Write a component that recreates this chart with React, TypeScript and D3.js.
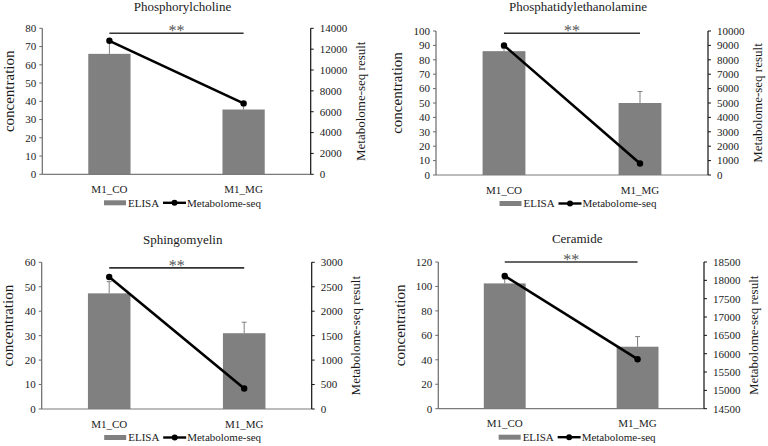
import * as d3 from "d3";

// ELISA vs. metabolome-seq for four lipid classes
const categories = ["M1_CO", "M1_MG"];
const panelTitles = ["Phosphorylcholine", "Phosphatidylethanolamine", "Sphingomyelin", "Ceramide"];
const elisaMeans = [[66, 35.5], [86, 50], [47.3, 31], [102.5, 50.7]];
const elisaErrors = [[7.5, 4.3], [2, 8], [4.8, 4.5], [3.5, 8.3]];
const metabolomeValues = [[12800, 6800], [9000, 800], [2700, 420], [18120, 15850]];
const leftDomains = [[0, 80], [0, 100], [0, 60], [0, 120]];
const leftSteps = [10, 10, 10, 20];
const rightDomains = [[0, 14000], [0, 10000], [0, 3000], [14500, 18500]];
const rightSteps = [2000, 1000, 500, 500];
const sigLevels = [77.3, 98.4, 57.7, 120];

// plot boxes for the 2x2 grid
const boxes = [
  { left: 42.3, right: 310.7, top: 28.3, bottom: 174.3, titleY: 10.5 },
  { left: 436, right: 708, top: 31, bottom: 175, titleY: 10.5 },
  { left: 41.7, right: 311.7, top: 262.3, bottom: 409, titleY: 244 },
  { left: 438.3, right: 704, top: 262, bottom: 408.7, titleY: 243 },
];

const BAR = "#808080";
const TEXT = "#1a1a1a";
const serif = { fontFamily: "'Liberation Serif', serif", fill: TEXT } as const;

const Panel = ({ i }: { i: number }) => {
  const b = boxes[i];
  const x = d3
    .scaleBand()
    .domain(categories)
    .range([b.left, b.right])
    .paddingInner(0.685)
    .paddingOuter(0.3425);
  const yL = d3.scaleLinear().domain(leftDomains[i]).range([b.bottom, b.top]);
  const yR = d3.scaleLinear().domain(rightDomains[i]).range([b.bottom, b.top]);
  const leftTicks = d3.range(leftDomains[i][0], leftDomains[i][1] + leftSteps[i] / 2, leftSteps[i]);
  const rightTicks = d3.range(rightDomains[i][0], rightDomains[i][1] + rightSteps[i] / 2, rightSteps[i]);
  const cx = (b.left + b.right) / 2 + 6;
  const mid = (b.top + b.bottom) / 2;
  const lDigits = String(leftDomains[i][1]).length;
  const rDigits = String(rightDomains[i][1]).length;
  const center = (c: string) => (x(c) as number) + x.bandwidth() / 2;

  const line = d3
    .line<number>()
    .x((_, k) => center(categories[k]))
    .y((v) => yR(v));

  const sigY = yL(sigLevels[i]);
  const legY = b.bottom + 28.5;
  const lx = cx - 78.5;

  return (
    <g>
      <text style={serif} x={cx} y={b.titleY} textAnchor="middle" fontSize={13}>
        {panelTitles[i]}
      </text>

      {/* bars with upper error bars */}
      {categories.map((c, k) => {
        const top = yL(elisaMeans[i][k]);
        const errTop = yL(elisaMeans[i][k] + elisaErrors[i][k]);
        const mx = center(c);
        return (
          <g key={c}>
            <rect x={x(c)} y={top} width={x.bandwidth()} height={b.bottom - top} fill={BAR} />
            <line x1={mx} x2={mx} y1={top} y2={errTop} stroke={BAR} strokeWidth={1} />
            <line x1={mx - 2.5} x2={mx + 2.5} y1={errTop} y2={errTop} stroke={BAR} strokeWidth={1} />
          </g>
        );
      })}

      {/* axes */}
      <line x1={b.left} x2={b.right} y1={b.bottom} y2={b.bottom} stroke="#7a7a7a" strokeWidth={1.2} />
      <line x1={b.left} x2={b.left} y1={b.top} y2={b.bottom} stroke="#6a6a6a" strokeWidth={1.2} />
      <line x1={b.right} x2={b.right} y1={b.top} y2={b.bottom} stroke="#111" strokeWidth={1.2} />
      {leftTicks.map((t) => (
        <g key={"l" + t}>
          <line x1={b.left - 3} x2={b.left} y1={yL(t)} y2={yL(t)} stroke="#6a6a6a" />
          <text style={serif} x={b.left - 6} y={yL(t)} dy="0.35em" textAnchor="end" fontSize={11}>
            {t}
          </text>
        </g>
      ))}
      {rightTicks.map((t) => (
        <g key={"r" + t}>
          <line x1={b.right} x2={b.right + 3} y1={yR(t)} y2={yR(t)} stroke="#111" />
          <text style={serif} x={b.right + 9} y={yR(t)} dy="0.35em" textAnchor="start" fontSize={11}>
            {t}
          </text>
        </g>
      ))}
      {categories.map((c) => (
        <text style={serif} key={"c" + c} x={center(c)} y={b.bottom + 18.5} textAnchor="middle" fontSize={11}>
          {c}
        </text>
      ))}

      <text
        style={serif}
        transform={`translate(${b.left - 24 - lDigits * 5},${mid - 10}) rotate(-90)`}
        textAnchor="middle"
        dy="0.35em"
        fontSize={15}
      >
        concentration
      </text>
      <text
        style={serif}
        transform={`translate(${b.right + 22 + rDigits * 5.5},${mid}) rotate(-90)`}
        textAnchor="middle"
        dy="0.35em"
        fontSize={13}
      >
        Metabolome-seq result
      </text>

      {/* metabolome-seq line on the right axis */}
      <path d={line(metabolomeValues[i]) ?? ""} fill="none" stroke="#000" strokeWidth={2.6} />
      {metabolomeValues[i].map((v, k) => (
        <circle key={"m" + k} cx={center(categories[k])} cy={yR(v)} r={3.2} fill="#000" />
      ))}

      {/* significance bracket */}
      <line
        x1={center(categories[0])}
        x2={center(categories[1])}
        y1={sigY}
        y2={sigY}
        stroke="#333"
        strokeWidth={1.6}
      />
      <text
        style={{ ...serif, fill: "#555" }}
        x={(center(categories[0]) + center(categories[1])) / 2}
        y={sigY + 3}
        textAnchor="middle"
        fontSize={16}
      >
        **
      </text>

      {/* legend */}
      <rect x={lx} y={legY - 2.5} width={22} height={5} fill={BAR} />
      <text style={serif} x={lx + 24} y={legY} dy="0.35em" fontSize={11}>
        ELISA
      </text>
      <line x1={lx + 59} x2={lx + 82} y1={legY} y2={legY} stroke="#000" strokeWidth={2.4} />
      <circle cx={lx + 70.5} cy={legY} r={3} fill="#000" />
      <text style={serif} x={lx + 83} y={legY} dy="0.35em" fontSize={11}>
        Metabolome-seq
      </text>
    </g>
  );
};

export default function App() {
  return (
    <svg
      width={768}
      height={446}
      style={{ position: "absolute", left: 0, top: 0, background: "#fff" }}
    >
      <rect width={768} height={446} fill="#fff" />
      {panelTitles.map((_, i) => (
        <Panel key={i} i={i} />
      ))}
    </svg>
  );
}
